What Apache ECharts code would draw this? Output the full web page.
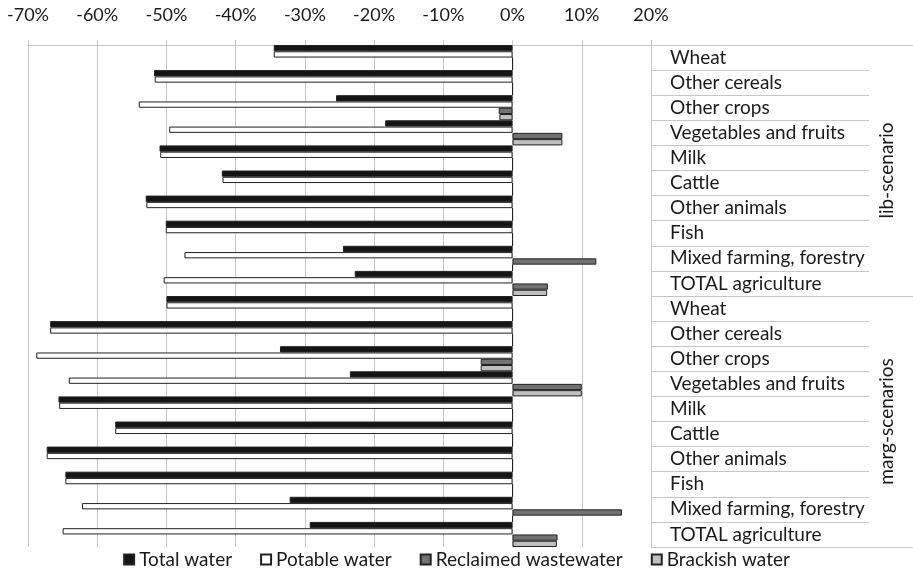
<!DOCTYPE html>
<html>
<head>
<meta charset="utf-8">
<script src="https://cdn.jsdelivr.net/npm/echarts@6/dist/echarts.min.js"></script>
<style>
  html, body { margin: 0; padding: 0; background: #fff; }
  #chart { width: 913px; height: 577px; }
</style>
</head>
<body>
<div id="chart"></div>
<script>
// categories (top to bottom)
const crops = ["Wheat", "Other cereals", "Other crops", "Vegetables and fruits", "Milk",
  "Cattle", "Other animals", "Fish", "Mixed farming, forestry", "TOTAL agriculture"];
const categories = crops.concat(crops);
const groups = ["lib-scenario", "marg-scenarios"];

// values in % (lib-scenario rows first, then marg-scenarios)
const totalWater = [-34.5, -51.8, -25.5, -18.4, -51.0, -42.0, -53.0, -50.1, -24.5, -22.8,
  -50.0, -66.8, -33.6, -23.5, -65.6, -57.4, -67.3, -64.6, -32.2, -29.3];
const potableWater = [-34.5, -51.7, -54.0, -49.6, -50.9, -41.9, -52.9, -50.1, -47.4, -50.4,
  -50.0, -66.8, -68.8, -64.1, -65.5, -57.4, -67.3, -64.6, -62.2, -65.0];
const reclaimedWastewater = [0, 0, -2.0, 7.2, 0, 0, 0, 0, 12.1, 5.1,
  0, 0, -4.6, 10.0, 0, 0, 0, 0, 15.8, 6.5];
const brackishWater = [0, 0, -1.9, 7.2, 0, 0, 0, 0, 0, 5.0,
  0, 0, -4.6, 10.0, 0, 0, 0, 0, 0, 6.4];

const font = "Lato";
const gridColor = "#c6c6c6";
const textColor = "#1a1a1a";

const chart = echarts.init(document.getElementById("chart"));

const bar = (name, data, color) => ({
  name: name,
  type: "bar",
  data: data,
  barGap: "0%",
  barCategoryGap: "0%",
  itemStyle: { color: color, borderColor: "#222", borderWidth: 1 },
});

chart.setOption({
  animation: false,
  textStyle: { fontFamily: font },
  grid: { left: 28, right: 262, top: 45, bottom: 30 },
  legend: {
    bottom: 3,
    left: "center",
    itemWidth: 10,
    itemHeight: 10,
    itemGap: 28,
    icon: "rect",
    textStyle: { fontFamily: font, fontSize: 19, color: textColor },
    data: ["Total water", "Potable water", "Reclaimed wastewater", "Brackish water"],
  },
  xAxis: {
    type: "value",
    position: "top",
    min: -70,
    max: 20,
    interval: 10,
    axisLine: { show: true, lineStyle: { color: gridColor } },
    axisTick: { show: true, length: 5, lineStyle: { color: gridColor } },
    splitLine: { lineStyle: { color: gridColor } },
    axisLabel: {
      formatter: "{value}%",
      margin: 21,
      fontFamily: font,
      fontSize: 18,
      color: textColor,
    },
  },
  yAxis: [
    {
      type: "category",
      data: categories,
      inverse: true,
      position: "right",
      axisLine: { show: true, onZero: false, lineStyle: { color: gridColor } },
      // long ticks draw the row separators of the label table
      axisTick: { show: true, length: 218, interval: 0, lineStyle: { color: gridColor } },
      axisLabel: {
        interval: 0,
        margin: 19,
        align: "left",
        fontFamily: font,
        fontSize: 19,
        color: textColor,
      },
    },
    {
      type: "category",
      data: groups,
      inverse: true,
      position: "right",
      axisLine: { show: false, onZero: false },
      axisTick: { show: true, length: 262, interval: 0, lineStyle: { color: gridColor } },
      axisLabel: {
        interval: 0,
        rotate: 90,
        margin: 226,
        fontFamily: font,
        fontSize: 19,
        color: textColor,
      },
    },
  ],
  series: [
    bar("Total water", totalWater, "#141414"),
    bar("Potable water", potableWater, "#ffffff"),
    bar("Reclaimed wastewater", reclaimedWastewater, "#727272"),
    bar("Brackish water", brackishWater, "#bfbfbf"),
  ],
});

window.addEventListener("resize", () => chart.resize());
</script>
</body>
</html>
